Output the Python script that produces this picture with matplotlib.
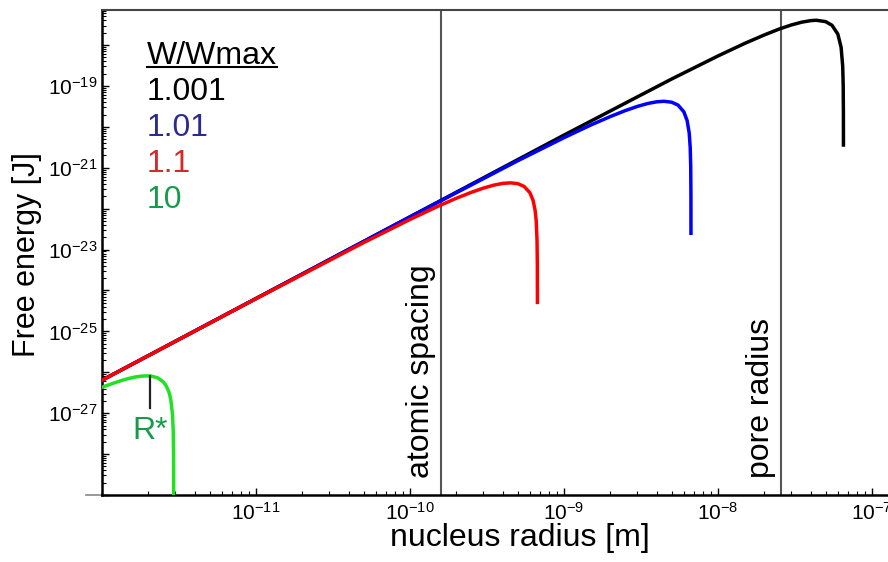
import matplotlib
matplotlib.use("Agg")
import matplotlib.pyplot as plt
from matplotlib.ticker import FixedLocator, FixedFormatter, LogLocator, NullFormatter
from matplotlib.lines import Line2D

plt.rcParams['font.family'] = ['Liberation Sans', 'DejaVu Sans']
plt.rcParams['mathtext.fontset'] = 'custom'
plt.rcParams['mathtext.rm'] = 'Liberation Sans'
plt.rcParams['mathtext.it'] = 'Liberation Sans:italic'
plt.rcParams['mathtext.default'] = 'regular'

# values (radius in m, free energy in J)
r_1001 = [1e-12, 1e-9, 5e-9, 1e-8, 1.5e-8, 2e-8, 2.5e-8, 3e-8, 3.5e-8, 4e-8, 4.35e-8,
          5e-8, 5.5e-8, 6e-8, 6.3e-8, 6.45e-8, 6.5e-8, 6.52e-8, 6.524e-8]
e_1001 = [6.4e-27, 6.3e-21, 1.48e-19, 5.42e-19, 1.11e-18, 1.77e-18, 2.47e-18, 3.11e-18,
          3.63e-18, 3.96e-18, 4.04e-18, 3.74e-18, 3.04e-18, 1.85e-18, 8.8e-19, 3.06e-19,
          1.04e-19, 2.1e-20, 3.6e-21]

r_101 = [1e-12, 1e-10, 5e-10, 1e-9, 1.5e-9, 2e-9, 2.5e-9, 3e-9, 3.5e-9, 4e-9, 4.45e-9,
         5e-9, 5.5e-9, 6e-9, 6.3e-9, 6.5e-9, 6.6e-9, 6.65e-9, 6.67e-9, 6.674e-9]
e_101 = [6.4e-27, 6.3e-23, 1.48e-21, 5.44e-21, 1.12e-20, 1.79e-20, 2.5e-20, 3.17e-20,
         3.73e-20, 4.1e-20, 4.22e-20, 4.01e-20, 3.41e-20, 2.33e-20, 1.43e-20, 7.09e-21,
         3.13e-21, 1.06e-21, 2.13e-22, 2.5e-23]

r_11 = [1e-12, 1e-11, 5e-11, 1e-10, 1.5e-10, 2e-10, 2.5e-10, 3e-10, 3.5e-10, 4e-10,
        4.48e-10, 5e-10, 5.5e-10, 6e-10, 6.3e-10, 6.5e-10, 6.6e-10, 6.68e-10, 6.71e-10,
        6.7188e-10]
e_11 = [6.39e-27, 6.3e-25, 1.48e-23, 5.45e-23, 1.12e-22, 1.8e-22, 2.51e-22, 3.19e-22,
        3.76e-22, 4.15e-22, 4.28e-22, 4.1e-22, 3.51e-22, 2.47e-22, 1.59e-22, 8.85e-23,
        4.98e-23, 1.7e-23, 4.29e-24, 5.1e-25]

r_10 = [1e-12, 1.1e-12, 1.2e-12, 1.35e-12, 1.5e-12, 1.65e-12, 1.8e-12, 1.95e-12, 2.1e-12,
        2.3e-12, 2.5e-12, 2.6e-12, 2.7e-12, 2.75e-12, 2.8e-12, 2.87e-12, 2.9e-12,
        2.915e-12, 2.919e-12, 2.9199e-12]
e_10 = [4.3e-27, 4.9e-27, 5.5e-27, 6.35e-27, 7.1e-27, 7.7e-27, 8.05e-27, 8.2e-27, 8.05e-27,
        7.3e-27, 5.85e-27, 4.8e-27, 3.55e-27, 2.85e-27, 2.08e-27, 9.1e-28, 3.7e-28,
        9.3e-29, 1.9e-29, 1.9e-30]

r_star = 2.05e-12
atomic_spacing = 1.59e-10
pore_radius = 2.56e-8

legend_title = 'W/Wmax'
legend_labels = ['1.001', '1.01', '1.1', '10']
legend_colors = ['#000000', '#2b2b8f', '#d42a2a', '#149c48']

fig = plt.figure(figsize=(8.88, 5.62), dpi=100)
ax = fig.add_axes([102 / 888, 67 / 562, 786 / 888, 485 / 562])
ax.set_xscale('log')
ax.set_yscale('log')
ax.set_xlim(1e-12, 1.27e-7)
ax.set_ylim(1e-29, 7.2e-18)

ax.axvline(atomic_spacing, color='#555555', lw=1.5, zorder=1)
ax.axvline(pore_radius, color='#555555', lw=1.5, zorder=1)

ax.plot(r_1001, e_1001, color='black', lw=2.5, zorder=3)
ax.plot(r_101, e_101, color='#0000ff', lw=2.5, zorder=4)
ax.plot(r_11, e_11, color='#ff0000', lw=2.5, zorder=5)
ax.plot(r_10, e_10, color='#22e022', lw=2.5, zorder=5)

# R* marker
ax.plot([r_star, r_star], [8.2e-27, 1.33e-27], color='#222222', lw=1.6, zorder=6)
ax.text(r_star, 2.3e-28, 'R*', color='#149c48', fontsize=23, ha='center', va='baseline')

# vertical line labels
ax.annotate('atomic spacing', xy=(atomic_spacing, 0.035), xycoords=('data', 'axes fraction'),
            xytext=(-5, 0), textcoords='offset pixels', rotation=90,
            ha='right', va='bottom', fontsize=23)
ax.annotate('pore radius', xy=(pore_radius, 0.035), xycoords=('data', 'axes fraction'),
            xytext=(-5, 0), textcoords='offset pixels', rotation=90,
            ha='right', va='bottom', fontsize=23)

# legend as plain text
ax.text(0.0573, 0.8887, legend_title, transform=ax.transAxes, fontsize=23, va='baseline')
ax.add_line(Line2D([0.0573, 0.2226], [0.8825, 0.8825], transform=ax.transAxes,
                   color='black', lw=1.5))
for i, (lab, col) in enumerate(zip(legend_labels, legend_colors)):
    ax.text(0.0573, 0.8144 - i * 0.0742, lab, color=col, transform=ax.transAxes,
            fontsize=23, va='baseline')

# ticks
xt = [1e-11, 1e-10, 1e-9, 1e-8, 1e-7]
ax.xaxis.set_major_locator(FixedLocator(xt))
ax.xaxis.set_major_formatter(FixedFormatter([r'$10^{-11}$', r'$10^{-10}$', r'$10^{-9}$',
                                             r'$10^{-8}$', r'$10^{-7}$']))
ax.xaxis.set_minor_locator(LogLocator(base=10, subs=range(2, 10), numticks=50))
ax.xaxis.set_minor_formatter(NullFormatter())

yt = [1e-29, 1e-28, 1e-27, 1e-26, 1e-25, 1e-24, 1e-23, 1e-22, 1e-21, 1e-20, 1e-19, 1e-18]
ylab = ['', '', r'$10^{-27}$', '', r'$10^{-25}$', '', r'$10^{-23}$', '', r'$10^{-21}$', '',
        r'$10^{-19}$', '']
ax.yaxis.set_major_locator(FixedLocator(yt))
ax.yaxis.set_major_formatter(FixedFormatter(ylab))
ax.yaxis.set_minor_locator(LogLocator(base=10, subs=range(2, 10), numticks=50))
ax.yaxis.set_minor_formatter(NullFormatter())

ax.tick_params(which='major', direction='in', length=5, width=1, labelsize=15, pad=5)
ax.tick_params(which='minor', direction='in', length=3, width=0.8)
ax.tick_params(axis='y', which='major', pad=3)

# small outward stub at the lower-left corner, as in the reference frame
ax.add_line(Line2D([-0.02, 0], [0, 0], transform=ax.transAxes, color='#888888',
                   lw=1.2, clip_on=False))

for s in ['left', 'bottom']:
    ax.spines[s].set_linewidth(1.8)
ax.spines['top'].set_color('#444444')
ax.spines['top'].set_linewidth(1.5)
ax.spines['right'].set_visible(False)

fig.text(27 / 888, 1 - 255 / 562, 'Free energy [J]', rotation=90, ha='center', va='center',
         fontsize=22)
fig.text(520 / 888, 1 - 538 / 562, 'nucleus radius [m]', ha='center', va='center', fontsize=23)

fig.savefig('out.png', dpi=100)
